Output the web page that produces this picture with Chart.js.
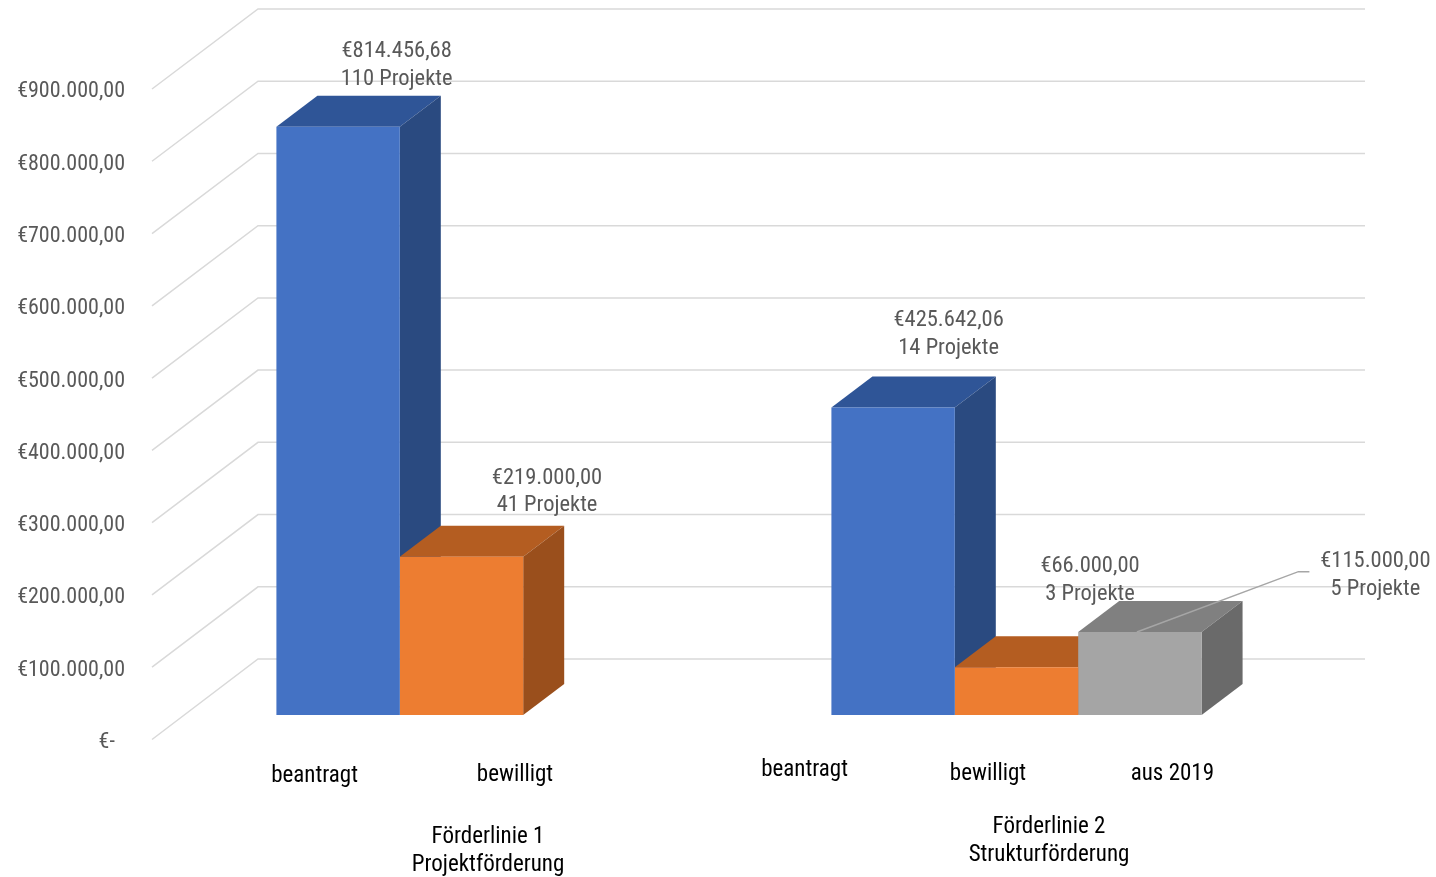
<!DOCTYPE html>
<html>
<head>
<meta charset="utf-8">
<script src="https://cdn.jsdelivr.net/npm/chart.js@4.4.1/dist/chart.umd.min.js"></script>
<style>
  html, body { margin: 0; padding: 0; background: #fff; }
  #wrap { width: 1436px; height: 877px; }
</style>
</head>
<body>
<div id="wrap"><canvas id="chart" width="1436" height="877"></canvas></div>
<script>
// data
const categories = [['Förderlinie 1', 'Projektförderung'], ['Förderlinie 2', 'Strukturförderung']];
const seriesNames = ['beantragt', 'bewilligt', 'aus 2019'];
const beantragt = [814456.68, 425642.06];
const bewilligt = [219000, 66000];
const aus2019 = [null, 115000];
const beantragtProjekte = [110, 14];
const bewilligtProjekte = [41, 3];
const aus2019Projekte = [null, 5];
const yTicks = [0, 100000, 200000, 300000, 400000, 500000, 600000, 700000, 800000, 900000];

// look
const FONT = '"Liberation Sans Narrow", "Arial Narrow", "Roboto Condensed", sans-serif';
const frontColors = ['#4472C4', '#ED7D31', '#A5A5A5'];
const topColors = ['#2F5597', '#B45D21', '#808080'];
const sideColors = ['#2A4A80', '#9A4F1C', '#6A6A6A'];
const DEPTH_X = 41, DEPTH_Y = -31;
const TEXT_DY = 2.5;
// value label placement relative to the bar's front top centre, per series / category
const valueLabelShift = [[[58.5, -77.7], [55.5, -89.5]], [[85.5, -81], [73.5, -103.3]], [null, [235.5, -73]]];
// inner category label placement (x shift from bar centre, y middle)
const barLabelPos = [[[-23.5, 774], [-88.5, 768]], [[53.5, 773], [-28.5, 772]], [null, [32.5, 772]]];
const groupLabelPos = [[26.5, 835], [32.5, 825]];

function euro(v) {
    if (v === 0) return '€-  ';
    let parts = v.toFixed(2).split('.');
    return '€' + parts[0].replace(/\B(?=(\d{3})+(?!\d))/g, '.') + ',' + parts[1];
}

const projekte = [beantragtProjekte, bewilligtProjekte, aus2019Projekte];

const threeD = {
    id: 'threeD',
    beforeDatasetsDraw(chart) {
        const ctx = chart.ctx;
        const area = chart.chartArea;
        const yl = chart.scales.yl, yb = chart.scales.yb;
        const xFront = area.left - 32, xBack = area.left + 74, xRight = area.right + 71;
        ctx.save();
        ctx.strokeStyle = '#D9D9D9';
        ctx.lineWidth = 1.5;
        yTicks.forEach(v => {
            ctx.beginPath();
            ctx.moveTo(xFront, yl.getPixelForValue(v));
            ctx.lineTo(xBack, yb.getPixelForValue(v));
            ctx.lineTo(xRight, yb.getPixelForValue(v));
            ctx.stroke();
        });

        let bars = [];
        chart.data.datasets.forEach((ds, i) => {
            chart.getDatasetMeta(i).data.forEach((el, j) => {
                if (ds.data[j] !== null) bars.push({el: el, i: i});
            });
        });
        bars.sort((a, b) => a.el.x - b.el.x);
        bars.forEach(({el, i}) => {
            const p = el.getProps(['x', 'y', 'base', 'width'], true);
            const l = p.x - p.width / 2, r = p.x + p.width / 2, t = p.y, b = p.base;
            ctx.fillStyle = topColors[i];
            ctx.beginPath();
            ctx.moveTo(l, t);
            ctx.lineTo(l + DEPTH_X, t + DEPTH_Y);
            ctx.lineTo(r + DEPTH_X, t + DEPTH_Y);
            ctx.lineTo(r, t);
            ctx.closePath();
            ctx.fill();
            ctx.fillStyle = sideColors[i];
            ctx.beginPath();
            ctx.moveTo(r, t);
            ctx.lineTo(r + DEPTH_X, t + DEPTH_Y);
            ctx.lineTo(r + DEPTH_X, b + DEPTH_Y);
            ctx.lineTo(r, b);
            ctx.closePath();
            ctx.fill();
        });
        ctx.restore();
    },
    afterDatasetsDraw(chart) {
        const ctx = chart.ctx;
        ctx.save();
        ctx.font = '22.5px ' + FONT;
        ctx.fillStyle = '#595959';
        ctx.textAlign = 'center';
        ctx.textBaseline = 'middle';
        chart.data.datasets.forEach((ds, i) => {
            chart.getDatasetMeta(i).data.forEach((el, j) => {
                if (ds.data[j] === null) return;
                const s = valueLabelShift[i][j];
                const lx = el.x + s[0], ly = el.y + s[1];
                ctx.fillText(euro(ds.data[j]), lx, ly + TEXT_DY);
                ctx.fillText(projekte[i][j] + ' Projekte', lx, ly + 27.5 + TEXT_DY);
                if (i === 2) {
                    ctx.strokeStyle = '#A6A6A6';
                    ctx.lineWidth = 1.5;
                    ctx.beginPath();
                    ctx.moveTo(el.x - 3, el.y);
                    ctx.lineTo(lx - 77, ly + 12.7);
                    ctx.lineTo(lx - 66, ly + 12.7);
                    ctx.stroke();
                }
            });
        });
        ctx.restore();
    },
    afterDraw(chart) {
        const ctx = chart.ctx;
        const x = chart.scales.x;
        ctx.save();
        ctx.font = '23px ' + FONT;
        ctx.fillStyle = '#000000';
        ctx.textAlign = 'center';
        ctx.textBaseline = 'middle';
        chart.data.datasets.forEach((ds, i) => {
            chart.getDatasetMeta(i).data.forEach((el, j) => {
                if (ds.data[j] === null) return;
                const pos = barLabelPos[i][j];
                ctx.fillText(seriesNames[i], el.x + pos[0], pos[1] + TEXT_DY);
            });
        });
        categories.forEach((lines, j) => {
            const cx = x.getPixelForValue(j) + groupLabelPos[j][0];
            lines.forEach((line, k) => ctx.fillText(line, cx, groupLabelPos[j][1] + k * 28 + TEXT_DY));
        });
        ctx.restore();
    }
};

new Chart(document.getElementById('chart').getContext('2d'), {
    type: 'bar',
    data: {
        labels: categories,
        datasets: [
            {label: seriesNames[0], data: beantragt, backgroundColor: frontColors[0]},
            {label: seriesNames[1], data: bewilligt, backgroundColor: frontColors[1]},
            {label: seriesNames[2], data: aus2019, backgroundColor: frontColors[2]}
        ]
    },
    options: {
        responsive: false,
        animation: false,
        devicePixelRatio: 1,
        layout: { padding: { left: 0, right: 142, top: 8, bottom: 137 } },
        datasets: { bar: { categoryPercentage: 0.667, barPercentage: 1.0, borderWidth: 0, yAxisID: 'y' } },
        plugins: { legend: { display: false }, tooltip: { enabled: false } },
        scales: {
            x: { type: 'category', display: false, offset: true },
            y: { display: false, min: -34610, max: 978777, bounds: 'data' },
            yb: { display: false, min: -112154, max: 901385, bounds: 'data' },
            yl: {
                position: 'left',
                min: -692,
                max: 1012065,
                bounds: 'data',
                afterBuildTicks: s => { s.ticks = yTicks.map(v => ({value: v})); },
                afterFit: s => { s.width = 184; s.paddingTop = 0; s.paddingBottom = 0; },
                grid: { display: false, drawTicks: false },
                border: { display: false },
                ticks: {
                    padding: 59,
                    labelOffset: 3,
                    color: '#595959',
                    font: { family: FONT, size: 22 },
                    callback: v => euro(v)
                }
            }
        }
    },
    plugins: [threeD]
});
</script>
</body>
</html>
